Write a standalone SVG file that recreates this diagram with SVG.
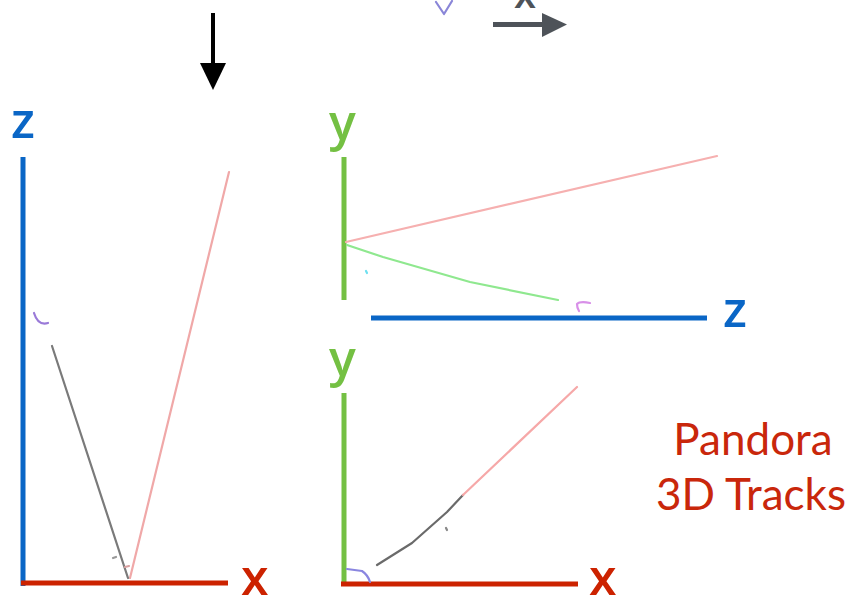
<svg xmlns="http://www.w3.org/2000/svg" width="853" height="599" viewBox="0 0 853 599">
<style>
.lbl{font-family:"Open Sans","DejaVu Sans",sans-serif;font-size:50px;font-weight:600}
.blue{fill:#0a66c6}
.green{fill:#74c043}
.red{fill:#cc2200}
.ax{stroke-width:5;fill:none}
.trk{fill:none;stroke-width:2.2;stroke-linecap:round;stroke-linejoin:round}
.title{font-family:"Lato","Open Sans",sans-serif;font-size:44px;fill:#c9270b}
</style>
<rect width="853" height="599" fill="#fff"/>
<g id="top-arrows">
  <line x1="213" y1="13" x2="213" y2="66" stroke="#000" stroke-width="4"/>
  <polygon points="200,63 226,63 213,90" fill="#000"/>
  <line x1="493" y1="24.5" x2="545" y2="24.5" stroke="#4e5359" stroke-width="5"/>
  <polygon points="542,13 567,24.5 542,37" fill="#4e5359"/>
  <text x="514" y="8" class="lbl" style="font-size:40px" fill="#4e5359">x</text>
  <path d="M436,2 L444,14 L452,1" class="trk" stroke="#8a86d8" stroke-width="2.5"/>
</g>
<g id="panel-xz">
  <line x1="23" y1="157" x2="23" y2="586" class="ax" stroke="#0a66c6"/>
  <line x1="21" y1="583" x2="228" y2="583" class="ax" stroke="#cc2200"/>
  <text x="11" y="138" class="lbl blue">z</text>
  <text x="241" y="595" class="lbl red">x</text>
  <line x1="130" y1="578" x2="229" y2="172" class="trk" stroke="#f0a8a8"/>
  <line x1="52" y1="346" x2="128" y2="578" class="trk" stroke="#7a7a7a"/>
  <path d="M34,313 Q38,326 48,323" class="trk" stroke="#9a7ad8" stroke-width="2.5"/>
  <path d="M113,558 l3,-1" class="trk" stroke="#999"/>
  <path d="M125,567 l4,-1" class="trk" stroke="#d8a0a0"/>
</g>
<g id="panel-zy">
  <line x1="344" y1="157" x2="344" y2="300" class="ax" stroke="#74c043"/>
  <line x1="371" y1="318" x2="707" y2="318" class="ax" stroke="#0a66c6"/>
  <text x="329" y="140" class="lbl green">y</text>
  <text x="723" y="327" class="lbl blue">z</text>
  <line x1="346" y1="242" x2="717" y2="156" class="trk" stroke="#f6b0b0"/>
  <path d="M347,245 L383,257 L470,282 L558,300" class="trk" stroke="#8fe88f"/>
  <path d="M366,271 l1,2" class="trk" stroke="#6ee0f0" stroke-width="2.5"/>
  <path d="M590,303 Q580,301 577,304 Q577,308 579,311" class="trk" stroke="#d890e8" stroke-width="2.5"/>
</g>
<g id="panel-xy">
  <line x1="344" y1="393" x2="344" y2="584" class="ax" stroke="#74c043"/>
  <line x1="341" y1="584" x2="578" y2="584" class="ax" stroke="#cc2200"/>
  <text x="329" y="376" class="lbl green">y</text>
  <text x="589" y="595" class="lbl red">x</text>
  <path d="M377,565 L412,543 L447,512 L463,495" class="trk" stroke="#6a6a6a"/>
  <line x1="463" y1="495" x2="577" y2="387" class="trk" stroke="#f6a8a8"/>
  <path d="M347,569 L362,571 Q368,575 370,582" class="trk" stroke="#8a86e0"/>
  <path d="M446,528 l1,2" class="trk" stroke="#888"/>
</g>
<g id="caption">
  <text x="753" y="455" text-anchor="middle" class="title">Pandora</text>
  <text x="751" y="510" text-anchor="middle" class="title">3D Tracks</text>
</g>
</svg>
